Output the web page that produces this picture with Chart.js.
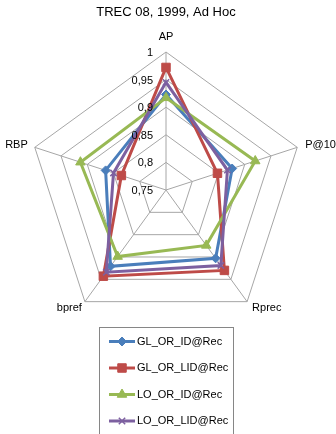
<!DOCTYPE html>
<html>
<head>
<meta charset="utf-8">
<style>
  html, body { margin: 0; padding: 0; background: #ffffff; }
  #wrap { width: 336px; height: 434px; }
</style>
<script src="https://cdn.jsdelivr.net/npm/chart.js@4/dist/chart.umd.min.js"></script>
</head>
<body>
<div id="wrap"><canvas id="radar" width="336" height="434"></canvas></div>
<script>
// Measures and runs
const measures = ['AP', 'P@10', 'Rprec', 'bpref', 'RBP'];
const runNames = ['GL_OR_ID@Rec', 'GL_OR_LID@Rec', 'LO_OR_ID@Rec', 'LO_OR_LID@Rec'];

// Scores per run, in the order of the measures above
const glOrId  = [0.923, 0.876, 0.903, 0.921, 0.865];
const glOrLid = [0.972, 0.848, 0.930, 0.943, 0.835];
const loOrId  = [0.917, 0.920, 0.874, 0.899, 0.913];
const loOrLid = [0.945, 0.867, 0.919, 0.934, 0.850];

// Radial axis range and ring step
const axisMin = 0.75;
const axisMax = 1;
const axisStep = 0.05;

const chartTitle = 'TREC 08, 1999, Ad Hoc';
const FONT = '"Liberation Sans", Arial, sans-serif';

const seriesStyle = [
  { color: '#4A7EBB', pointStyle: 'rectRot',  radius: 4.5, borderWidth: 1 },
  { color: '#BE4B48', pointStyle: 'rect',     radius: 6,   borderWidth: 1 },
  { color: '#98B954', pointStyle: 'triangle', radius: 5.5, borderWidth: 1 },
  { color: '#7D60A0', pointStyle: 'crossRot', radius: 4.5, borderWidth: 1.5 }
];
const seriesValues = [glOrId, glOrLid, loOrId, loOrLid];

const datasets = seriesValues.map((vals, i) => ({
  label: runNames[i],
  data: vals,
  borderColor: seriesStyle[i].color,
  backgroundColor: seriesStyle[i].color,
  borderWidth: 3,
  fill: false,
  tension: 0,
  pointStyle: seriesStyle[i].pointStyle,
  pointRadius: seriesStyle[i].radius,
  pointBorderWidth: seriesStyle[i].borderWidth,
  pointBackgroundColor: seriesStyle[i].color,
  pointBorderColor: seriesStyle[i].color,
  order: seriesValues.length - i   // later runs are painted on top
}));

function formatTick(v) {
  return String(parseFloat(v.toFixed(2))).replace('.', ',');
}

// Title, ring values, measure names and the boxed legend
const decorations = {
  id: 'decorations',
  afterDraw(chart) {
    const ctx = chart.ctx;
    const r = chart.scales.r;
    ctx.save();

    // title
    ctx.fillStyle = '#000000';
    ctx.font = '13px ' + FONT;
    ctx.textAlign = 'center';
    ctx.textBaseline = 'middle';
    ctx.fillText(chartTitle, 166, 12);

    // ring values to the left of the first spoke
    ctx.font = '11px ' + FONT;
    ctx.textAlign = 'right';
    r.ticks.forEach(t => {
      const d = r.getDistanceFromCenterForValue(t.value);
      ctx.fillText(formatTick(t.value), r.xCenter - 13, r.yCenter - d + 1);
    });

    // measure names at the outer corners
    const offsets = [
      { dx: 0,  dy: -15, align: 'center' },
      { dx: 8,  dy: -2,  align: 'left' },
      { dx: 5,  dy: 6,   align: 'left' },
      { dx: -3, dy: 6,   align: 'right' },
      { dx: -7, dy: -2,  align: 'right' }
    ];
    chart.data.labels.forEach((lab, i) => {
      const p = r.getPointPosition(i, r.drawingArea);
      const o = offsets[i];
      ctx.textAlign = o.align;
      ctx.fillText(lab, p.x + o.dx, p.y + o.dy);
    });

    // legend box
    ctx.strokeStyle = '#868686';
    ctx.lineWidth = 1;
    ctx.strokeRect(99.5, 327.5, 134, 120);

    ctx.textAlign = 'left';
    chart.data.datasets.forEach((ds, i) => {
      const y = 341.5 + i * 26.5;
      ctx.strokeStyle = ds.borderColor;
      ctx.lineWidth = 3;
      ctx.beginPath();
      ctx.moveTo(109, y);
      ctx.lineTo(135, y);
      ctx.stroke();
      const opts = {
        pointStyle: ds.pointStyle,
        radius: ds.pointRadius,
        borderWidth: ds.pointBorderWidth,
        rotation: 0
      };
      ctx.fillStyle = ds.pointBackgroundColor;
      ctx.strokeStyle = ds.pointBorderColor;
      ctx.lineWidth = ds.pointBorderWidth;
      if (Chart.helpers && Chart.helpers.drawPoint) {
        Chart.helpers.drawPoint(ctx, opts, 122, y);
      }
      ctx.fillStyle = '#000000';
      ctx.font = '11px ' + FONT;
      ctx.textBaseline = 'middle';
      ctx.fillText(ds.label, 137, y);
    });

    ctx.restore();
  }
};

new Chart(document.getElementById('radar'), {
  type: 'radar',
  data: { labels: measures, datasets },
  options: {
    responsive: false,
    animation: false,
    devicePixelRatio: 1,
    layout: { padding: { left: 28, right: 32, top: 52, bottom: 106 } },
    plugins: {
      legend: { display: false },
      title: { display: false },
      tooltip: { enabled: false }
    },
    scales: {
      r: {
        min: axisMin,
        max: axisMax,
        ticks: { stepSize: axisStep, display: false },
        pointLabels: { display: false },
        grid: { circular: false, color: '#a6a6a6', lineWidth: 1 },
        angleLines: { color: '#a6a6a6', lineWidth: 1 }
      }
    }
  },
  plugins: [decorations]
});
</script>
</body>
</html>
